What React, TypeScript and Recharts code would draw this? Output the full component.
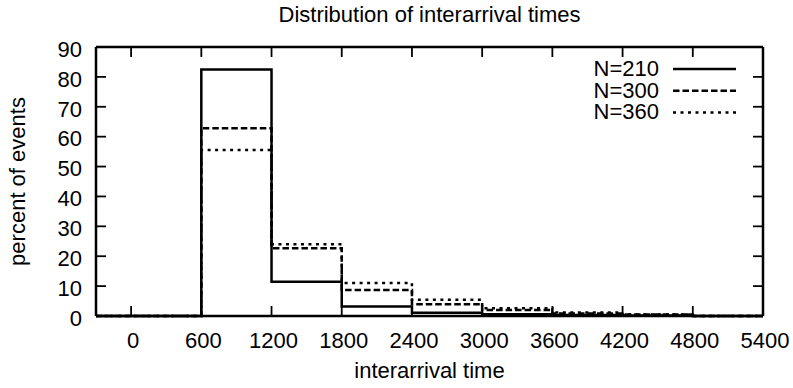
import React from 'react';
import { LineChart, Line, XAxis, YAxis, Legend } from 'recharts';

// bin start positions (stepAfter: each value holds until next bin start)
const binStarts = [-300, 0, 600, 1200, 1800, 2400, 3000, 3600, 4200, 4800, 5400];
const n210 = [0, 0, 82.5, 11.5, 3.2, 1.1, 0.6, 0.3, 0.2, 0, 0];
const n300 = [0, 0, 62.8, 22.7, 8.7, 3.9, 2.0, 0.8, 0.5, 0, 0];
const n360 = [0, 0, 55.5, 24.0, 11.0, 5.4, 2.6, 1.2, 0.5, 0, 0];

const xTicks = [0, 600, 1200, 1800, 2400, 3000, 3600, 4200, 4800, 5400];
const yTicks = [0, 10, 20, 30, 40, 50, 60, 70, 80, 90];

const seriesNames = ['N=210', 'N=300', 'N=360'];
const seriesKeys = ['n210', 'n300', 'n360'];
const seriesDash = ['', '6.5 3', '3 4.5'];

const title = 'Distribution of interarrival times';
const xLabel = 'interarrival time';
const yLabel = 'percent of events';

const data = binStarts.map((x, i) => ({ x, n210: n210[i], n300: n300[i], n360: n360[i] }));

const FONT = '"Liberation Sans", Arial, Helvetica, sans-serif';
const FS = 22;
const TICK_LEN = 10;
const TS = 6; // recharts tick size (not drawn, only used for offsets)
const XM = 10;
const YM = 8;
const LW = 2.5;

const BottomTick = (props: any) => {
  const { x, y, payload } = props;
  const axisY = y - XM - TS;
  return (
    <g>
      <line x1={x} y1={axisY} x2={x} y2={axisY - TICK_LEN} stroke="#000" strokeWidth={1.8} />
      <text x={x + 2} y={y} dy="0.72em" textAnchor="middle" fill="#000" fontSize={FS} fontFamily={FONT}>
        {payload.value}
      </text>
    </g>
  );
};

const TopTick = (props: any) => {
  const { x, y } = props;
  const axisY = y + TS;
  return <line x1={x} y1={axisY} x2={x} y2={axisY + TICK_LEN} stroke="#000" strokeWidth={1.8} />;
};

const LeftTick = (props: any) => {
  const { x, y, payload } = props;
  const axisX = x + YM + TS;
  return (
    <g>
      <line x1={axisX} y1={y} x2={axisX + TICK_LEN} y2={y} stroke="#000" strokeWidth={1.8} />
      <text x={x} y={y + 2} dy="0.355em" textAnchor="end" fill="#000" fontSize={FS} fontFamily={FONT}>
        {payload.value}
      </text>
    </g>
  );
};

const RightTick = (props: any) => {
  const { x, y } = props;
  const axisX = x - TS;
  return <line x1={axisX} y1={y} x2={axisX - TICK_LEN} y2={y} stroke="#000" strokeWidth={1.8} />;
};

const LegendContent = (props: any) => {
  const payload = (props.payload || []).filter((e: any) => seriesNames.indexOf(e.value) >= 0);
  return (
    <svg width={200} height={75} style={{ display: 'block', overflow: 'visible' }}>
      {payload.map((e: any, i: number) => {
        const idx = seriesNames.indexOf(e.value);
        return (
          <g key={e.value}>
            <text x={99} y={21 + i * 21.7} textAnchor="end" fill="#000" fontSize={FS} fontFamily={FONT}>
              {e.value}
            </text>
            <line
              x1={113}
              x2={176}
              y1={14 + i * 21.7}
              y2={14 + i * 21.7}
              stroke="#000"
              strokeWidth={LW}
              strokeDasharray={seriesDash[idx] || undefined}
            />
          </g>
        );
      })}
    </svg>
  );
};

export default function App() {
  return (
    <div style={{ position: 'absolute', left: 0, top: 0, width: 793, height: 388, background: '#fff' }}>
      <LineChart
        width={793}
        height={388}
        data={data}
        margin={{ top: 46, right: 29, bottom: 0, left: 0 }}
        style={{ fontFamily: FONT }}
      >
        <XAxis
          dataKey="x"
          type="number"
          domain={[-300, 5400]}
          ticks={xTicks}
          interval={0}
          height={72}
          tickSize={TS}
          tickMargin={XM}
          tickLine={false}
          tick={BottomTick}
          axisLine={{ stroke: '#000', strokeWidth: LW }}
          label={{ value: xLabel, position: 'insideBottom', offset: 10, fill: '#000', fontSize: FS, fontFamily: FONT }}
        />
        <XAxis
          xAxisId="top"
          dataKey="x"
          orientation="top"
          type="number"
          domain={[-300, 5400]}
          ticks={xTicks}
          interval={0}
          height={1}
          tickSize={TS}
          tickMargin={0}
          tickLine={false}
          tick={TopTick}
          axisLine={{ stroke: '#000', strokeWidth: LW }}
          label={{ value: title, position: 'top', offset: 24.3, fill: '#000', fontSize: FS, fontFamily: FONT }}
        />
        <YAxis
          type="number"
          domain={[0, 90]}
          ticks={yTicks}
          interval={0}
          width={96}
          tickSize={TS}
          tickMargin={YM}
          tickLine={false}
          tick={LeftTick}
          axisLine={{ stroke: '#000', strokeWidth: LW }}
          label={{
            value: yLabel,
            angle: -90,
            position: 'insideLeft',
            offset: 17,
            fill: '#000',
            fontSize: FS,
            fontFamily: FONT,
            style: { textAnchor: 'middle' },
          }}
        />
        <YAxis
          yAxisId="right"
          orientation="right"
          type="number"
          domain={[0, 90]}
          ticks={yTicks}
          interval={0}
          width={1}
          tickSize={TS}
          tickMargin={0}
          tickLine={false}
          tick={RightTick}
          axisLine={{ stroke: '#000', strokeWidth: LW }}
        />
        <Legend
          layout="vertical"
          align="center"
          verticalAlign="middle"
          content={LegendContent}
          wrapperStyle={{ position: 'absolute', left: 560, top: 55, width: 200, height: 75 }}
        />
        {/* invisible series so the top/right frame axes get data */}
        <Line
          xAxisId="top"
          yAxisId="right"
          dataKey="n210"
          name="frame"
          stroke="none"
          dot={false}
          activeDot={false}
          isAnimationActive={false}
          legendType="none"
        />
        {seriesKeys.map((k, i) => (
          <Line
            key={k}
            dataKey={k}
            name={seriesNames[i]}
            type="stepAfter"
            stroke="#000"
            strokeWidth={LW}
            strokeDasharray={seriesDash[i] || undefined}
            dot={false}
            activeDot={false}
            isAnimationActive={false}
            legendType="line"
          />
        ))}
      </LineChart>
    </div>
  );
}
